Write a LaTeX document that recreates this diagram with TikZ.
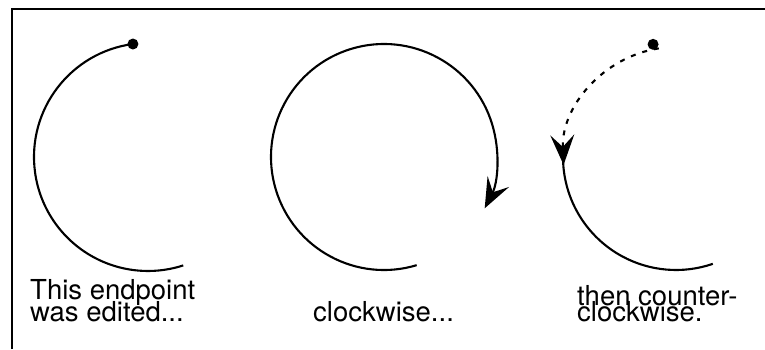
\documentclass[tikz,border=0pt]{standalone}
\usepackage{fontspec}
\setmainfont{TeX Gyre Heros}
\usetikzlibrary{arrows.meta,calc}
\tikzset{
  curve/.style={line width=2.1pt},
  enddot/.style={circle,fill=black,inner sep=0pt,minimum size=11pt},
  lbl/.style={anchor=base west,inner sep=0pt,font=\fontsize{27.5}{27.5}\selectfont},
  bigtip/.style={-{Stealth[length=30pt,width=24pt,inset=12pt]}},
  frame/.style={line width=2.4pt}
}
\begin{document}
\begin{tikzpicture}[x=1pt,y=1pt]
\useasboundingbox (0,0) rectangle (765,349);
% frame
\coordinate (fl) at (12,0);
\coordinate (ftl) at (12,340);
\coordinate (ftr) at (765,340);
\draw[frame] (fl) -- (ftl) -- (ftr);

% circle 1
\coordinate (c1) at (148,192);
\node[enddot] (d1) at ($(c1)+(97.6:114)$) {};
\draw[curve] (d1.center) arc[start angle=97.6,end angle=288,radius=114];

% circle 2
\coordinate (c2) at (384,192);
\coordinate (s2) at ($(c2)+(286.8:113)$);
\draw[curve,bigtip] (s2) arc[start angle=286.8,end angle=-27,radius=113];

% circle 3
\coordinate (c3) at (676,192);
\node[enddot] (d3) at ($(c3)+(101.5:115)$) {};
\draw[curve,dash pattern=on 5pt off 7pt,bigtip] ($(c3)+(99:110)$) arc[start angle=99,end angle=182.5,radius=113];
\draw[curve] ($(c3)+(181.5:113)$) arc[start angle=181.5,end angle=289,radius=113];

% labels
\node[lbl] (l1a) at (30,50) {This endpoint};
\node[lbl] (l1b) at (30,28) {was edited...};
\node[lbl] (l2) at (313,28) {clockwise...};
\node[lbl] (l3a) at (577,44) {then counter-};
\node[lbl] (l3b) at (577,28) {clockwise.};
\end{tikzpicture}
\end{document}
